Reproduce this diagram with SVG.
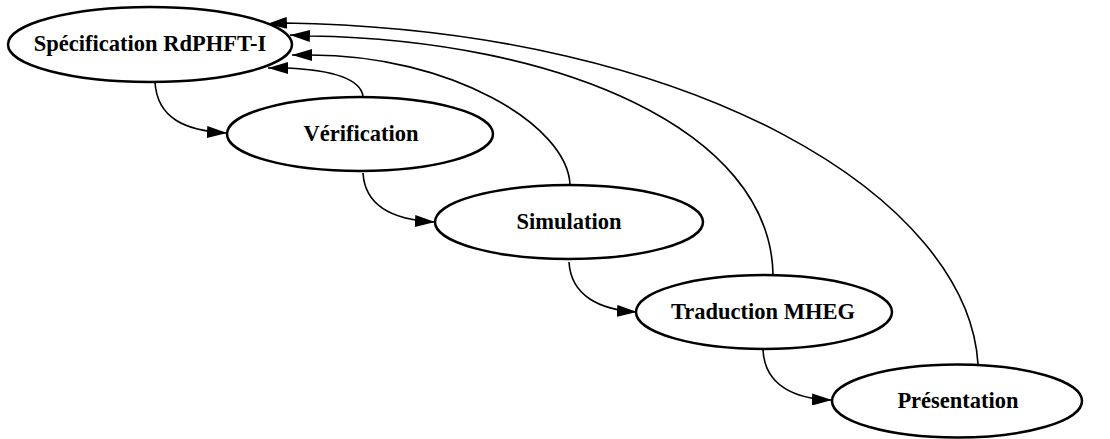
<svg xmlns="http://www.w3.org/2000/svg" width="1110" height="439" viewBox="0 0 1110 439">
<style>
.node ellipse{fill:#fff;stroke:#000;stroke-width:2.5}
.node text{font-family:"Liberation Serif","Times New Roman",serif;font-weight:bold;font-size:22.5px;text-anchor:middle;fill:#000}
.edge{fill:none;stroke:#000;stroke-width:1.6;marker-end:url(#ah)}
</style>
<defs>
<marker id="ah" markerUnits="userSpaceOnUse" markerWidth="20" markerHeight="12" refX="20" refY="6" orient="auto">
<path d="M0,0 L20,6 L0,12 z" fill="#000"/>
</marker>
</defs>
<rect width="1110" height="439" fill="#fff"/>
<g id="connectors">
<path class="edge" d="M155,82 C157,118 185,131 227,133"/>
<path class="edge" d="M363,173 C365,206 392,220 435,222"/>
<path class="edge" d="M569,262 C571,296 600,310 637,312"/>
<path class="edge" d="M763,350 C765,386 795,399 832,400"/>
<path class="edge" d="M363,96 C360,78 330,70 287,68 L268,68"/>
<path class="edge" d="M570,185 C568,125 450,55 310,55 L292,55"/>
<path class="edge" d="M773,274 C770,130 560,40 310,36 L290,35"/>
<path class="edge" d="M978,364 C968,200 700,30 285,23 L267,24"/>
</g>
<g id="n1" class="node"><ellipse cx="150" cy="44.5" rx="142" ry="37.5"/><text x="150" y="51">Spécification RdPHFT-I</text></g>
<g id="n2" class="node"><ellipse cx="360" cy="134" rx="133" ry="37"/><text x="361" y="141">Vérification</text></g>
<g id="n3" class="node"><ellipse cx="569" cy="222" rx="134" ry="37"/><text x="569" y="229">Simulation</text></g>
<g id="n4" class="node"><ellipse cx="764" cy="312" rx="128" ry="37"/><text x="763" y="319">Traduction MHEG</text></g>
<g id="n5" class="node"><ellipse cx="957" cy="401" rx="125" ry="36.5"/><text x="958" y="408">Présentation</text></g>
</svg>
